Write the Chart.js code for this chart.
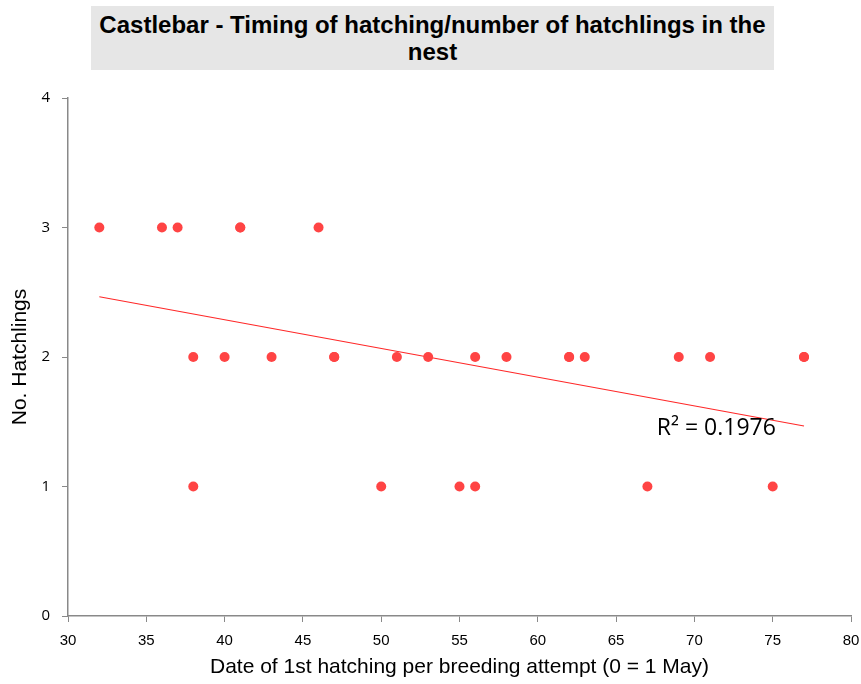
<!DOCTYPE html>
<html><head><meta charset="utf-8">
<script src="https://cdn.jsdelivr.net/npm/chart.js@4"></script>
<style>
html,body{margin:0;padding:0;background:#fff;}
#wrap{position:relative;width:861px;height:684px;}
#title{position:absolute;left:91px;top:6px;width:683px;height:64px;background:#e6e6e6;
 font-family:"Liberation Sans",Arial,sans-serif;font-weight:bold;font-size:24px;
 line-height:27px;text-align:center;color:#000;box-sizing:border-box;padding-top:5px;}
canvas{position:absolute;left:0;top:0;}
</style></head><body>
<div id="wrap"><canvas id="c" width="861" height="684"></canvas>
<div id="title">Castlebar - Timing of hatching/number of hatchlings in the<br>nest</div></div>
<script>
const hatchDates = [32,36,37,41,41,46, 38,40,43,47,47,51,53,56,58,62,62,63,69,71,77,77, 38,50,55,56,67,75];
const hatchlings = [3,3,3,3,3,3, 2,2,2,2,2,2,2,2,2,2,2,2,2,2,2,2, 1,1,1,1,1,1];
const trendX = [32,77];
const trendY = [2.465,1.467];
const xTicks = [30,35,40,45,50,55,60,65,70,75,80];
const yTicks = [0,1,2,3,4];
const r2Label = "R² = 0.1976";
const r2Pos = [67.6, 1.45];

const pts = hatchDates.map((x,i)=>({x:x,y:hatchlings[i]}));
const trend = trendX.map((x,i)=>({x:x,y:trendY[i]}));

const labelPlugin = {
  id:'r2',
  afterDatasetsDraw(chart){
    const {ctx,scales} = chart;
    const px = scales.x.getPixelForValue(r2Pos[0]);
    const py = scales.y.getPixelForValue(r2Pos[1]);
    ctx.save();
    ctx.font = '23px "Open Sans", "Liberation Sans", sans-serif';
    ctx.fillStyle = '#000';
    ctx.textAlign='left'; ctx.textBaseline='middle';
    ctx.fillText(r2Label, px, py);
    ctx.restore();
  }
};

new Chart(document.getElementById('c'), {
  type:'scatter',
  data:{datasets:[
    {data:pts, backgroundColor:'rgb(255,68,68)', borderColor:'rgb(255,68,68)', pointRadius:5, pointHoverRadius:5, borderWidth:0, order:1},
    {type:'line', data:trend, borderColor:'rgb(255,40,40)', borderWidth:1.2, pointRadius:0, fill:false, order:2}
  ]},
  options:{
    responsive:false, animation:false,
    layout:{padding:{top:98, right:10, left:0, bottom:0}},
    plugins:{legend:{display:false}, tooltip:{enabled:false}, title:{display:false}},
    scales:{
      x:{type:'linear', min:30, max:80,
        afterBuildTicks(s){ s.ticks = xTicks.map(v=>({value:v})); },
        afterFit(s){ s.height = 68; s.paddingRight = 0; },
        ticks:{font:{family:'"Liberation Sans",Arial,sans-serif', size:15}, color:'#000', padding:10, maxRotation:0},
        grid:{drawOnChartArea:false, drawTicks:true, tickLength:6, color:'#898989'},
        border:{color:'#898989', width:1.5},
        title:{display:true, text:'Date of 1st hatching per breeding attempt (0 = 1 May)', font:{family:'"Liberation Sans",Arial,sans-serif', size:21}, color:'#000', padding:{top:4}}
      },
      y:{type:'linear', min:0, max:4,
        afterBuildTicks(s){ s.ticks = yTicks.map(v=>({value:v})); },
        afterFit(s){ s.width = 68; },
        ticks:{font:{family:'"Open Sans","Liberation Sans",sans-serif', size:15}, color:'#000', padding:12},
        grid:{drawOnChartArea:false, drawTicks:true, tickLength:6, color:'#898989'},
        border:{color:'#898989', width:1.5},
        title:{display:true, text:'No. Hatchlings', font:{family:'"Liberation Sans","Arial",sans-serif', size:21}, color:'#000', padding:{top:8, bottom:0}}
      }
    }
  },
  plugins:[labelPlugin]
});
</script></body></html>
